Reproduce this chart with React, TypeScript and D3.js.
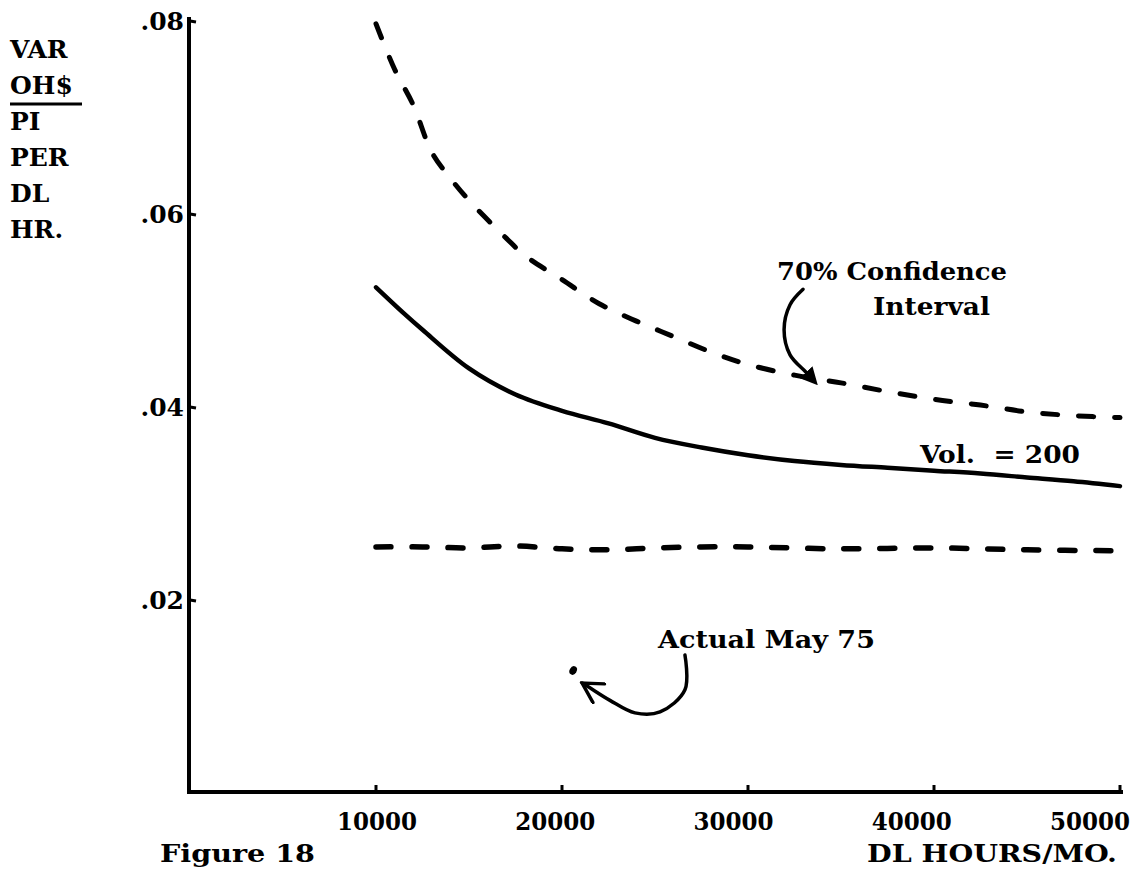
import React, { useEffect, useRef } from 'react';
import * as d3 from 'd3';

// axis ticks
const xTicks = [10000, 20000, 30000, 40000, 50000];
const xTickLabels = ['10000', '20000', '30000', '40000', '50000'];
const yTicks = [0.02, 0.04, 0.06, 0.08];
const yTickLabels = ['.02', '.04', '.06', '.08'];
const yTitleLines = ['VAR', 'OH$', 'PI', 'PER', 'DL', 'HR.'];

// upper 70% confidence bound
const upperX = [10000, 11000, 12000, 13000, 14000, 15000, 16000, 17000, 18000, 20000, 22000, 24000, 26000, 28000, 30000, 32500, 35000, 37500, 40000, 42500, 45000, 47500, 50000];
const upperY = [0.0797, 0.075, 0.0713, 0.0664, 0.0637, 0.0614, 0.0594, 0.0575, 0.0557, 0.0532, 0.0507, 0.0489, 0.0473, 0.0457, 0.0444, 0.0433, 0.0425, 0.0416, 0.0408, 0.0402, 0.0395, 0.0391, 0.0389];

// Vol. = 200 curve
const meanX = [10000, 11500, 12500, 15000, 17500, 20000, 22500, 25000, 27500, 30000, 32500, 35000, 37500, 40000, 42500, 45000, 47500, 50000];
const meanY = [0.0524, 0.0497, 0.048, 0.044, 0.0413, 0.0396, 0.0383, 0.0368, 0.0358, 0.035, 0.0344, 0.034, 0.0337, 0.0334, 0.0331, 0.0327, 0.0323, 0.0318];

// lower 70% confidence bound
const lowerX = [10000, 12500, 15000, 17500, 20000, 22500, 25000, 27500, 30000, 35000, 40000, 45000, 50000];
const lowerY = [0.0255, 0.0255, 0.0254, 0.0256, 0.0253, 0.0252, 0.0254, 0.0255, 0.0255, 0.0253, 0.0254, 0.0252, 0.0251];

// actual May 75
const actualX = 20600;
const actualY = 0.0127;

// annotation arrows (data units)
const confArrowX = [32960, 32260, 31940, 32260, 33120, 33500];
const confArrowY = [0.0522, 0.0506, 0.048, 0.0454, 0.0436, 0.0428];
const actualArrowX = [26610, 26610, 25270, 23920, 22580, 21500, 21080];
const actualArrowY = [0.0143, 0.0107, 0.0084, 0.0083, 0.0096, 0.0109, 0.0114];

const FONT = '"DejaVu Serif", serif';

const App = () => {
  const svgRef = useRef<SVGSVGElement | null>(null);

  useEffect(() => {
    const svg = d3.select(svgRef.current);
    svg.selectAll('*').remove();

    const x = d3.scaleLinear().domain([0, 50000]).range([190, 1120]);
    const y = d3.scaleLinear().domain([0, 0.08]).range([793, 21]);
    // tick labels in the original drift left of their ticks
    const xLabel = d3.scaleLinear().domain([10000, 50000]).range([377, 1090]);

    const defs = svg.append('defs');
    defs
      .append('marker')
      .attr('id', 'solidHead')
      .attr('viewBox', '0 0 10 10')
      .attr('refX', 6)
      .attr('refY', 5)
      .attr('markerWidth', 5)
      .attr('markerHeight', 5)
      .attr('markerUnits', 'strokeWidth')
      .attr('orient', 'auto')
      .append('path')
      .attr('d', 'M0,0 L10,5 L0,10 Z')
      .attr('fill', '#000');
    defs
      .append('marker')
      .attr('id', 'openHead')
      .attr('viewBox', '0 0 10 10')
      .attr('refX', 9)
      .attr('refY', 5)
      .attr('markerWidth', 7)
      .attr('markerHeight', 7)
      .attr('markerUnits', 'strokeWidth')
      .attr('orient', 'auto')
      .append('path')
      .attr('d', 'M1,0.5 L9,5 L1,9.5')
      .attr('fill', 'none')
      .attr('stroke', '#000')
      .attr('stroke-width', 1.4)
      .attr('stroke-linecap', 'round');

    // axes
    svg
      .append('line')
      .attr('x1', x(0) - 1)
      .attr('x2', x(0) - 1)
      .attr('y1', y(0.08) - 4)
      .attr('y2', y(0))
      .attr('stroke', '#000')
      .attr('stroke-width', 4);
    svg
      .append('line')
      .attr('x1', x(0) - 3)
      .attr('x2', x(50000) + 3)
      .attr('y1', y(0) - 1)
      .attr('y2', y(0) - 1)
      .attr('stroke', '#000')
      .attr('stroke-width', 4);

    svg
      .selectAll('.ytick')
      .data(yTicks)
      .enter()
      .append('line')
      .attr('x1', x(0))
      .attr('x2', x(0) + 6)
      .attr('y1', (d) => y(d))
      .attr('y2', (d) => y(d) + 1)
      .attr('stroke', '#000')
      .attr('stroke-width', 3);

    svg
      .selectAll('.xtick')
      .data(xTicks)
      .enter()
      .append('line')
      .attr('x1', (d) => x(d))
      .attr('x2', (d) => x(d))
      .attr('y1', y(0) - 1)
      .attr('y2', y(0) - 8)
      .attr('stroke', '#000')
      .attr('stroke-width', 3);

    const text = (s: string, tx: number, ty: number, len?: number, anchor = 'start') => {
      const t = svg
        .append('text')
        .attr('x', tx)
        .attr('y', ty)
        .attr('text-anchor', anchor)
        .attr('font-family', FONT)
        .attr('font-weight', 'bold')
        .attr('font-size', 25)
        .attr('fill', '#000')
        .attr('xml:space', 'preserve')
        .text(s);
      if (len) t.attr('textLength', len).attr('lengthAdjust', 'spacingAndGlyphs');
      return t;
    };

    yTicks.forEach((d, i) => text(yTickLabels[i], 184, y(d) + 9, undefined, 'end'));
    xTicks.forEach((d, i) => text(xTickLabels[i], xLabel(d), 830, 80, 'middle'));

    yTitleLines.forEach((s, i) => text(s, 10, 58 + i * 36));
    svg
      .append('line')
      .attr('x1', 10)
      .attr('x2', 82)
      .attr('y1', 104)
      .attr('y2', 104)
      .attr('stroke', '#000')
      .attr('stroke-width', 3);

    text('Figure 18', 160, 862, 155);
    text('DL HOURS/MO.', 867, 862, 250);
    text('70% Confidence', 777, 280, 230);
    text('Interval', 873, 315, 117);
    text('Vol.  = 200', 920, 463, 160);
    text('Actual May 75', 658, 648, 217);

    const line = d3
      .line<[number, number]>()
      .x((d) => x(d[0]))
      .y((d) => y(d[1]))
      .curve(d3.curveCatmullRom);

    const zip = (xs: number[], ys: number[]) => xs.map((v, i) => [v, ys[i]] as [number, number]);

    svg
      .append('path')
      .attr('d', line(zip(upperX, upperY)))
      .attr('fill', 'none')
      .attr('stroke', '#000')
      .attr('stroke-width', 5)
      .attr('stroke-linecap', 'round')
      .attr('stroke-dasharray', '15 21');

    svg
      .append('path')
      .attr('d', line(zip(meanX, meanY)))
      .attr('fill', 'none')
      .attr('stroke', '#000')
      .attr('stroke-width', 4.5)
      .attr('stroke-linecap', 'round');

    svg
      .append('path')
      .attr('d', line(zip(lowerX, lowerY)))
      .attr('fill', 'none')
      .attr('stroke', '#000')
      .attr('stroke-width', 5.5)
      .attr('stroke-linecap', 'round')
      .attr('stroke-dasharray', '15 21');

    svg
      .append('ellipse')
      .attr('cx', x(actualX))
      .attr('cy', y(actualY))
      .attr('rx', 3.5)
      .attr('ry', 4.5)
      .attr('transform', `rotate(30 ${x(actualX)} ${y(actualY)})`)
      .attr('fill', '#000');

    svg
      .append('path')
      .attr('d', line(zip(confArrowX, confArrowY)))
      .attr('fill', 'none')
      .attr('stroke', '#000')
      .attr('stroke-width', 3.5)
      .attr('stroke-linecap', 'round')
      .attr('marker-end', 'url(#solidHead)');

    svg
      .append('path')
      .attr('d', line(zip(actualArrowX, actualArrowY)))
      .attr('fill', 'none')
      .attr('stroke', '#000')
      .attr('stroke-width', 3.5)
      .attr('stroke-linecap', 'round')
      .attr('marker-end', 'url(#openHead)');
  }, []);

  return (
    <div style={{ position: 'absolute', left: 0, top: 0, background: '#fff' }}>
      <svg ref={svgRef} width={1143} height={872} style={{ display: 'block' }}></svg>
    </div>
  );
};

export default App;
